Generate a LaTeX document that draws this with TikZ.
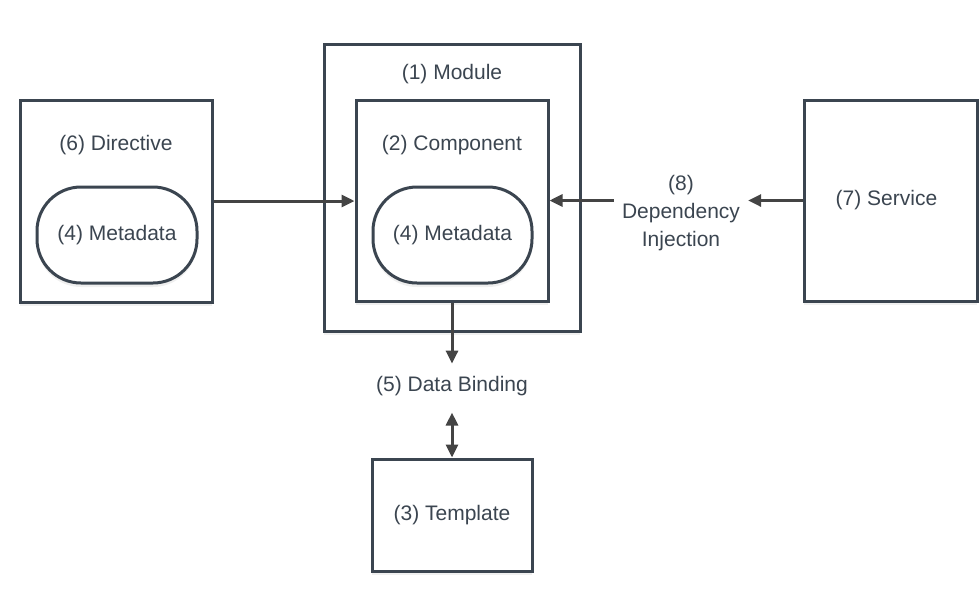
\documentclass[tikz,border=0pt]{standalone}
\usepackage{fontspec}
\setmainfont{Liberation Sans}
\usetikzlibrary{arrows.meta,shadows}
\definecolor{edge}{HTML}{3B4550}
\definecolor{arrowgray}{HTML}{444444}
\tikzset{
  box/.style={draw=edge, line width=3pt, fill=white, inner sep=0pt,
    text=edge, font=\fontsize{21}{28}\selectfont,
    drop shadow={shadow xshift=0pt, shadow yshift=-4pt, opacity=.12}},
  pill/.style={box, rounded corners=44pt},
  txt/.style={text=edge, font=\fontsize{21}{28}\selectfont, inner sep=0pt},
  wire/.style={draw=arrowgray, line width=3pt, -{Triangle[length=13pt,width=12pt]}}
}
\begin{document}
\begin{tikzpicture}[x=1pt,y=-1pt]
\useasboundingbox (0,0) rectangle (980,611);
% \draw[help lines, gray] (0,0) grid[step=50] (980,611);
\node (mod)  [box, minimum width=256pt, minimum height=287pt] at (452,187.5) {};
\node (comp) [box, minimum width=192pt, minimum height=201pt] at (452,200.5) {};
\node (meta) [pill, minimum width=159pt, minimum height=96pt] at (452.5,235) {(4) Metadata};
\node (dir)  [box, minimum width=192pt, minimum height=202pt] at (116,201) {};
\node (dmeta) [pill, minimum width=160pt, minimum height=96pt] at (117,235) {(4) Metadata};
\node (svc)  [box, minimum width=173pt, minimum height=201pt] at (890.5,200.5) {(7) Service\hspace*{8pt}};
\node (tmpl) [box, minimum width=160pt, minimum height=112pt] at (452,515) {(3) Template};
\node [txt] at (452,74) {(1) Module};
\node [txt] at (452,145) {(2) Component};
\node [txt] at (116,145) {(6) Directive};
\node (bind) [txt, anchor=base, inner ysep=12pt] at (452,391) {(5) Data Binding};
\node (dep)  [txt, align=center, inner xsep=8pt] at (681,213.5) {(8)\\Dependency\\Injection};
\draw [wire] (dir.east) -- (dir.east -| comp.west);
\draw [wire] (svc.west) -- (svc.west -| dep.east);
\draw [wire] (dep.west |- comp.east) -- (comp.east);
\draw [wire] (comp.south) -- (bind.north);
\draw [wire, {Triangle[length=13pt,width=12pt]}-{Triangle[length=13pt,width=12pt]}, shorten <=5pt] (bind.south) -- (tmpl.north);
\end{tikzpicture}
\end{document}
